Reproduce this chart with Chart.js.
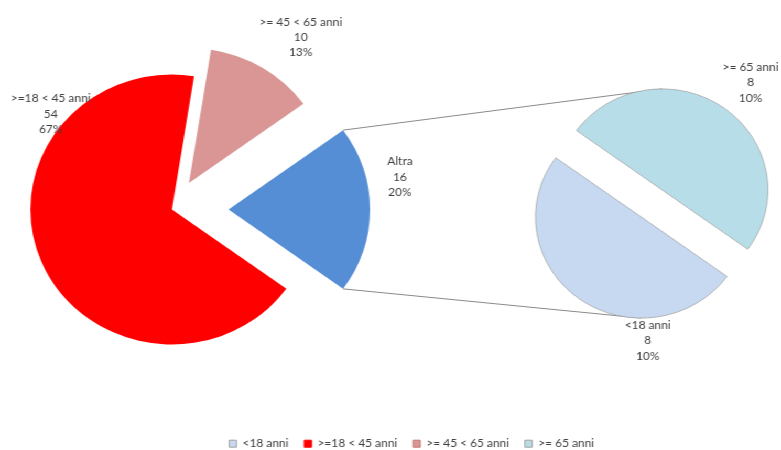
<!DOCTYPE html>
<html lang="it">
<head>
<meta charset="utf-8">
<title>Fasce di età</title>
<script src="https://cdn.jsdelivr.net/npm/chart.js@4/dist/chart.umd.min.js"></script>
<style>
  html, body { margin: 0; padding: 0; background: #ffffff; overflow: hidden; }
  /* drawing is laid out on a 745px wide stage and widened to the 781px page */
  #stage { position: relative; width: 745px; height: 450px; transform: scaleX(1.0483); transform-origin: 0 0; }
  #stage canvas { position: absolute; left: 0; }
</style>
</head>
<body>
<div id="stage">
  <canvas id="mainPie" width="745" height="450" style="top:0"></canvas>
  <canvas id="detailPie" width="745" height="450" style="top:0"></canvas>
  <canvas id="legendBar" width="745" height="80" style="top:422.6px"></canvas>
</div>
<script>
// Main pie: the two adult groups plus "Altra", which gathers the remaining groups
const mainLabels = ['>=18 < 45 anni', '>= 45 < 65 anni', 'Altra'];
const mainValues = [54, 10, 16];
const mainShares = [67, 13, 20];

// Secondary pie: breakdown of "Altra"
const detailLabels = ['<18 anni', '>= 65 anni'];
const detailValues = [8, 8];
const detailShares = [10, 10];

// Legend entries, in display order
const legendLabels = ['<18 anni', '>=18 < 45 anni', '>= 45 < 65 anni', '>= 65 anni'];

const COLORS = {
  young: '#C6D9F1',
  adult: '#FF0000',
  mature: '#D99694',
  other: '#558ED5',
  senior: '#B7DEE8'
};
const EDGE = '#a3a3a3';
const TEXT = '#404040';
const FONT = { family: 'Lato, "Liberation Sans", sans-serif', size: 11.4 };

// Pull each slice away from the pie centre along its bisector
const explodePlugin = {
  id: 'explode',
  afterDatasetsUpdate(chart, args, opts) {
    const dist = opts.distances || [];
    chart.getDatasetMeta(0).data.forEach((arc, i) => {
      const d = dist[i] || 0;
      if (!d) return;
      const mid = (arc.startAngle + arc.endAngle) / 2;
      arc.x += Math.cos(mid) * d;
      arc.y += Math.sin(mid) * d;
    });
  }
};

// Three-line data labels: category, value, percentage
const sliceLabelPlugin = {
  id: 'sliceLabels',
  afterDatasetsDraw(chart, args, opts) {
    const { ctx } = chart;
    const values = chart.data.datasets[0].data;
    ctx.save();
    ctx.font = `${FONT.size}px ${FONT.family}`;
    ctx.fillStyle = TEXT;
    ctx.textAlign = 'center';
    ctx.textBaseline = 'middle';
    chart.getDatasetMeta(0).data.forEach((arc, i) => {
      const p = opts.placement[i];
      const a = p.angle * Math.PI / 180;
      const cx = arc.x + Math.cos(a) * p.distance;
      const cy = arc.y + Math.sin(a) * p.distance;
      const lines = [chart.data.labels[i], String(values[i]), opts.shares[i] + '%'];
      lines.forEach((t, k) => ctx.fillText(t, cx, cy + (k - 1) * opts.lineHeight));
    });
    ctx.restore();
  }
};

let mainChart = null;

// Lines joining the edges of "Altra" to the top and bottom of the secondary pie
const connectorPlugin = {
  id: 'connectors',
  beforeDatasetsDraw(chart) {
    if (!mainChart) return;
    const other = mainChart.getDatasetMeta(0).data[mainLabels.indexOf('Altra')];
    const halves = chart.getDatasetMeta(0).data;
    const lower = halves[0];
    const upper = halves[1];
    const R = other.outerRadius;
    const { ctx } = chart;
    ctx.save();
    ctx.beginPath();
    ctx.moveTo(other.x + R * Math.cos(other.startAngle), other.y + R * Math.sin(other.startAngle));
    ctx.lineTo(upper.x, upper.y - upper.outerRadius);
    ctx.moveTo(other.x + R * Math.cos(other.endAngle), other.y + R * Math.sin(other.endAngle));
    ctx.lineTo(lower.x, lower.y + lower.outerRadius);
    ctx.strokeStyle = '#8a8a8a';
    ctx.lineWidth = 1;
    ctx.stroke();
    ctx.restore();
  }
};

const common = {
  responsive: false,
  animation: false,
  events: [],
  rotation: 126
};

mainChart = new Chart(document.getElementById('mainPie'), {
  type: 'pie',
  data: {
    labels: mainLabels,
    datasets: [{
      data: mainValues,
      backgroundColor: [COLORS.adult, COLORS.mature, COLORS.other],
      borderWidth: 0
    }]
  },
  options: {
    ...common,
    radius: 135,
    layout: { padding: { left: 0, right: 417, top: 0, bottom: 31 } },
    plugins: {
      legend: { display: false },
      tooltip: { enabled: false },
      explode: { distances: [0, 31, 54] },
      sliceLabels: {
        shares: mainShares,
        lineHeight: 15.3,
        placement: [
          { angle: -140.4, distance: 150 },
          { angle: -53.8, distance: 180.7 },
          { angle: -11.2, distance: 166.7 }
        ]
      }
    }
  },
  plugins: [explodePlugin, sliceLabelPlugin]
});

new Chart(document.getElementById('detailPie'), {
  type: 'pie',
  data: {
    labels: detailLabels,
    datasets: [{
      data: detailValues,
      backgroundColor: [COLORS.young, COLORS.senior],
      borderColor: EDGE,
      borderWidth: 0.75
    }]
  },
  options: {
    ...common,
    radius: 101,
    layout: { padding: { left: 498.4, right: 0, top: 0, bottom: 43 } },
    plugins: {
      legend: { display: false },
      tooltip: { enabled: false },
      explode: { distances: [16.8, 16.8] },
      sliceLabels: {
        shares: detailShares,
        lineHeight: 15.3,
        placement: [
          { angle: 87.2, distance: 123.8 },
          { angle: -51.8, distance: 136.5 }
        ]
      }
    }
  },
  plugins: [explodePlugin, connectorPlugin, sliceLabelPlugin]
});

// Shared legend for both pies
const legendFill = [COLORS.young, COLORS.adult, COLORS.mature, COLORS.senior];
const legendStroke = [EDGE, COLORS.adult, '#c07b79', EDGE];

new Chart(document.getElementById('legendBar'), {
  type: 'pie',
  data: { labels: legendLabels, datasets: [{ data: [] }] },
  options: {
    ...common,
    layout: { padding: { left: 40.4, right: 0, top: 0, bottom: 0 } },
    plugins: {
      tooltip: { enabled: false },
      legend: {
        position: 'top',
        labels: {
          boxWidth: 7,
          boxHeight: 7,
          padding: 15,
          color: TEXT,
          font: FONT,
          generateLabels: () => legendLabels.map((text, i) => ({
            text,
            fillStyle: legendFill[i],
            strokeStyle: legendStroke[i],
            lineWidth: 1,
            fontColor: TEXT,
            hidden: false,
            index: i
          }))
        }
      }
    }
  }
});
</script>
</body>
</html>
